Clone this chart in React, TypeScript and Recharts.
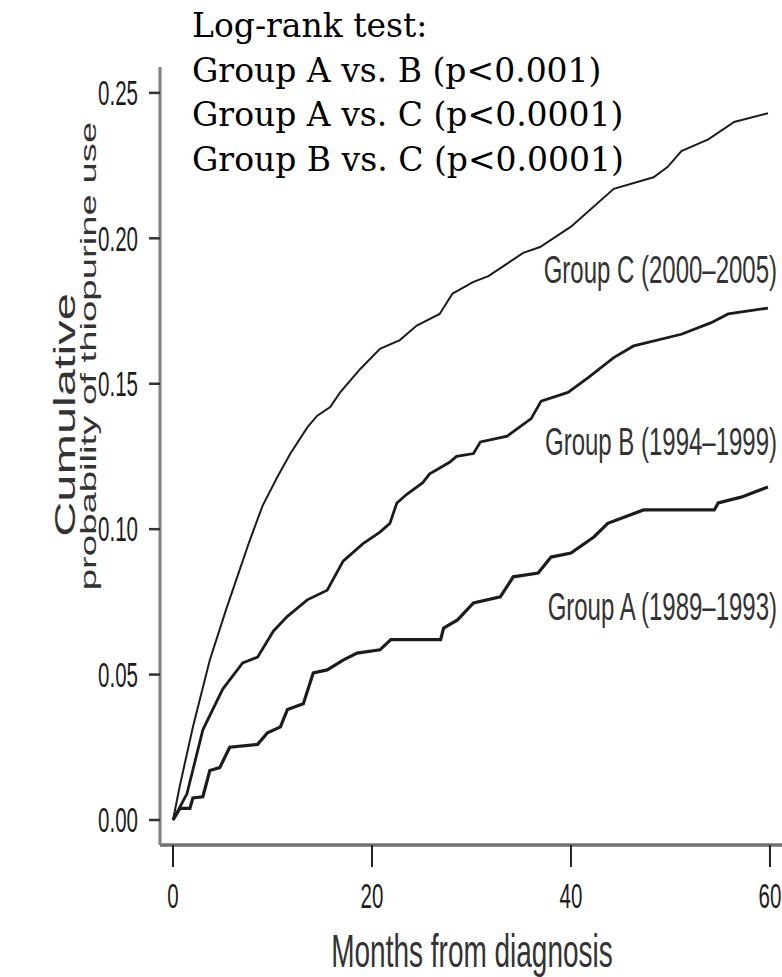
import React from 'react';
import { LineChart, Line, XAxis, YAxis } from 'recharts';

// ---- data (months from diagnosis, cumulative probability) ----
const xTicks = [0, 20, 40, 60];
const yTicks = [0, 0.05, 0.1, 0.15, 0.2, 0.25];

const groupA = [
  { m: 0, v: 0 }, { m: 0.7, v: 0.004 }, { m: 1.7, v: 0.004 }, { m: 2.0, v: 0.0076 },
  { m: 3.0, v: 0.008 }, { m: 3.7, v: 0.017 }, { m: 4.7, v: 0.018 }, { m: 5.7, v: 0.025 },
  { m: 8.5, v: 0.026 }, { m: 9.5, v: 0.03 }, { m: 10.8, v: 0.032 }, { m: 11.5, v: 0.038 },
  { m: 13.1, v: 0.04 }, { m: 14.1, v: 0.0506 }, { m: 15.5, v: 0.0516 }, { m: 17.1, v: 0.055 },
  { m: 18.5, v: 0.0574 }, { m: 20.8, v: 0.0585 }, { m: 21.9, v: 0.062 }, { m: 26.9, v: 0.062 },
  { m: 27.2, v: 0.066 }, { m: 28.6, v: 0.0688 }, { m: 30.2, v: 0.0746 }, { m: 32.9, v: 0.0767 },
  { m: 34.2, v: 0.0836 }, { m: 36.7, v: 0.0849 }, { m: 38.0, v: 0.0904 }, { m: 40.0, v: 0.0918 },
  { m: 42.3, v: 0.0973 }, { m: 43.7, v: 0.102 }, { m: 47.3, v: 0.1066 }, { m: 54.4, v: 0.1066 },
  { m: 54.8, v: 0.109 }, { m: 57.1, v: 0.111 }, { m: 59.8, v: 0.1145 },
];

const groupB = [
  { m: 0, v: 0 }, { m: 1.4, v: 0.009 }, { m: 3.0, v: 0.031 }, { m: 5.0, v: 0.045 },
  { m: 7.0, v: 0.054 }, { m: 8.5, v: 0.056 }, { m: 10.1, v: 0.065 }, { m: 11.5, v: 0.07 },
  { m: 13.5, v: 0.0757 }, { m: 15.5, v: 0.079 }, { m: 17.1, v: 0.089 }, { m: 19.1, v: 0.095 },
  { m: 20.8, v: 0.099 }, { m: 21.8, v: 0.102 }, { m: 22.5, v: 0.109 }, { m: 23.5, v: 0.112 },
  { m: 25.1, v: 0.116 }, { m: 25.8, v: 0.119 }, { m: 27.8, v: 0.123 }, { m: 28.5, v: 0.125 },
  { m: 30.2, v: 0.126 }, { m: 30.9, v: 0.13 }, { m: 33.6, v: 0.132 }, { m: 36.0, v: 0.138 },
  { m: 37.0, v: 0.144 }, { m: 39.7, v: 0.147 }, { m: 41.7, v: 0.152 }, { m: 44.3, v: 0.159 },
  { m: 46.3, v: 0.163 }, { m: 51.1, v: 0.167 }, { m: 54.1, v: 0.171 }, { m: 55.8, v: 0.174 },
  { m: 59.8, v: 0.176 },
];

const groupC = [
  { m: 0, v: 0 }, { m: 0.7, v: 0.012 }, { m: 2.0, v: 0.032 }, { m: 3.7, v: 0.055 },
  { m: 5.4, v: 0.073 }, { m: 7.0, v: 0.089 }, { m: 7.7, v: 0.096 }, { m: 9.0, v: 0.108 },
  { m: 10.5, v: 0.118 }, { m: 11.8, v: 0.126 }, { m: 13.5, v: 0.135 }, { m: 14.5, v: 0.139 },
  { m: 15.8, v: 0.142 }, { m: 16.8, v: 0.147 }, { m: 18.8, v: 0.155 }, { m: 20.8, v: 0.162 },
  { m: 22.8, v: 0.165 }, { m: 24.5, v: 0.17 }, { m: 26.8, v: 0.174 }, { m: 28.1, v: 0.181 },
  { m: 30.2, v: 0.185 }, { m: 31.7, v: 0.187 }, { m: 35.2, v: 0.195 }, { m: 36.9, v: 0.197 },
  { m: 40.0, v: 0.204 }, { m: 44.3, v: 0.217 }, { m: 48.3, v: 0.221 }, { m: 49.7, v: 0.2245 },
  { m: 51.1, v: 0.23 }, { m: 53.8, v: 0.234 }, { m: 56.4, v: 0.24 }, { m: 59.8, v: 0.243 },
];

const groupLabels = ['Group C (2000\u20132005)', 'Group B (1994\u20131999)', 'Group A (1989\u20131993)'];
const titleLines = [
  'Log-rank test:',
  'Group A vs. B (p<0.001)',
  'Group A vs. C (p<0.0001)',
  'Group B vs. C (p<0.0001)',
];
const xTitle = 'Months from diagnosis';
const yTitle1 = 'Cumulative';
const yTitle2 = 'probability of thiopurine use';

const SANS = "'Liberation Sans', Arial, sans-serif";
const SERIF = "'DejaVu Serif', serif";
const SY = 1.68;
const INK = '#1c1c1c';

const XTick = (props: any) => {
  const { x, payload } = props;
  return (
    <text transform={`translate(${x},908) scale(1,${SY})`} textAnchor="middle"
      fontFamily={SANS} fontSize={20.5} fill={INK}>
      {String(payload.value)}
    </text>
  );
};

const YTick = (props: any) => {
  const { y, payload } = props;
  return (
    <text transform={`translate(138,${y}) scale(1,${SY})`} y={7.3} textAnchor="end"
      fontFamily={SANS} fontSize={20.5} fill={INK}>
      {Number(payload.value).toFixed(2)}
    </text>
  );
};

export default function App() {
  return (
    <div style={{ position: 'absolute', left: 0, top: 0, width: 782, height: 977, overflow: 'hidden', background: '#fff' }}>
      <LineChart width={800} height={977} margin={{ top: 67, right: 0, bottom: 0, left: 0 }}>
        <XAxis type="number" dataKey="m" domain={[-1.307, 63.02]} allowDataOverflow
          ticks={xTicks} tick={<XTick />} height={132} tickSize={22}
          axisLine={{ stroke: '#707070', strokeWidth: 3.5 }}
          tickLine={{ stroke: '#222', strokeWidth: 2 }} />
        <YAxis type="number" dataKey="v" domain={[-0.0086, 0.2589]} allowDataOverflow
          ticks={yTicks} tick={<YTick />} width={160} tickSize={11}
          axisLine={{ stroke: '#808080', strokeWidth: 3 }}
          tickLine={{ stroke: '#333', strokeWidth: 2.5 }} />
        <Line data={groupC} dataKey="v" type="linear" stroke={INK} strokeWidth={2}
          dot={false} isAnimationActive={false} />
        <Line data={groupB} dataKey="v" type="linear" stroke={INK} strokeWidth={2.8}
          dot={false} isAnimationActive={false} />
        <Line data={groupA} dataKey="v" type="linear" stroke={INK} strokeWidth={3.2}
          dot={false} isAnimationActive={false} />
      </LineChart>
      <svg width={782} height={977} style={{ position: 'absolute', left: 0, top: 0, pointerEvents: 'none' }}>
        {titleLines.map((t, i) => (
          <text key={t} x={192} y={37 + i * 44.5} fontFamily={SERIF} fontSize={33} fill="#000">{t}</text>
        ))}
        {groupLabels.map((t, i) => (
          <text key={t} transform={`translate(777,${[283, 455, 620][i]}) scale(1,1.6)`} textAnchor="end"
            fontFamily={SANS} fontSize={24} fill="#333">{t}</text>
        ))}
        <text transform={`translate(472,967) scale(1,${SY})`} textAnchor="middle"
          fontFamily={SANS} fontSize={28} fill="#333">{xTitle}</text>
        <text transform={`translate(75,415) rotate(-90) scale(${SY},1)`} textAnchor="middle"
          fontFamily={SANS} fontSize={29} fill="#333">{yTitle1}</text>
        <text transform={`translate(96,356) rotate(-90) scale(${SY},1)`} textAnchor="middle"
          fontFamily={SANS} fontSize={22.8} fill="#333">{yTitle2}</text>
      </svg>
    </div>
  );
}
